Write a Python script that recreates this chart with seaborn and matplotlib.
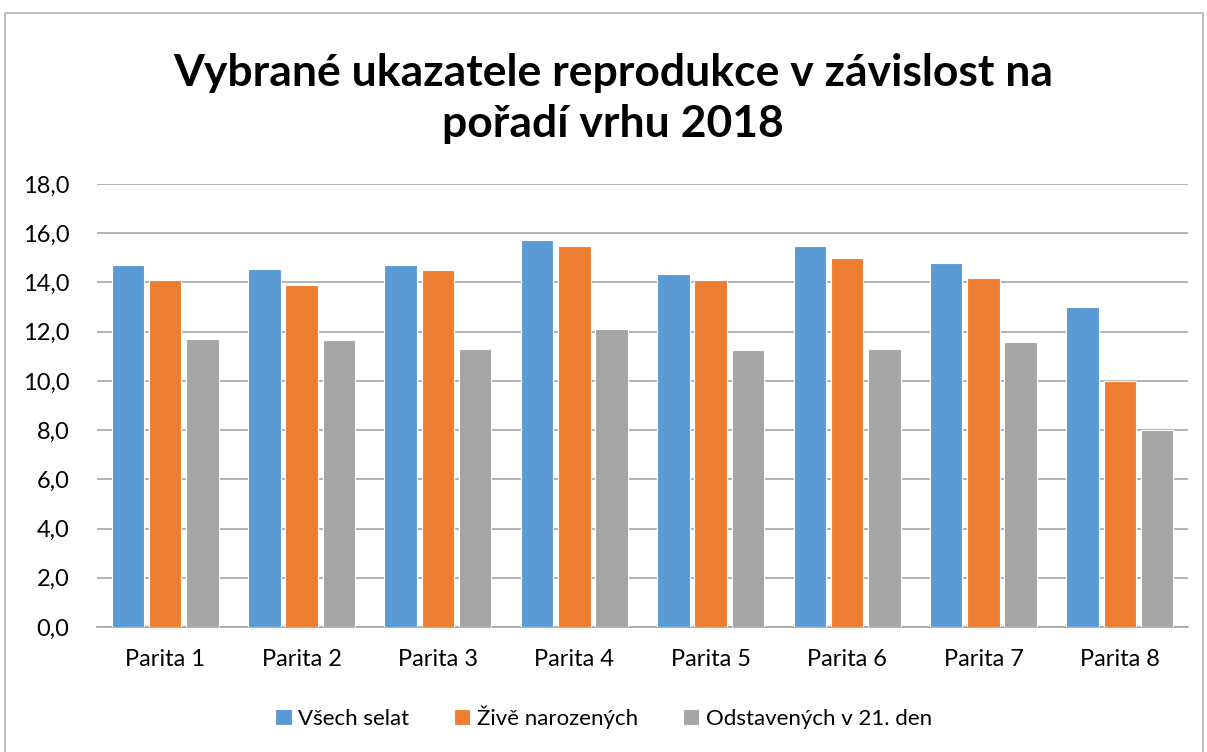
import pandas as pd
import numpy as np
import matplotlib.pyplot as plt
import seaborn as sns
from matplotlib.patches import Rectangle

# Data
parity = ['Parita 1', 'Parita 2', 'Parita 3', 'Parita 4',
          'Parita 5', 'Parita 6', 'Parita 7', 'Parita 8']
series_names = ['Všech selat', 'Živě narozených', 'Odstavených v 21. den']
vsech_selat = [14.7, 14.53, 14.69, 15.72, 14.35, 15.47, 14.8, 13.02]
zive_narozenych = [14.11, 13.9, 14.5, 15.47, 14.11, 15.0, 14.19, 10.0]
odstavenych = [11.7, 11.66, 11.28, 12.1, 11.26, 11.3, 11.6, 8.0]
colors = ['#5B9BD5', '#ED7D31', '#A5A5A5']

df = pd.DataFrame({
    'parita': parity * 3,
    'serie': np.repeat(series_names, len(parity)),
    'hodnota': vsech_selat + zive_narozenych + odstavenych,
})

sns.set_style('white')
plt.rcParams['font.family'] = ['Lato', 'DejaVu Sans']
plt.rcParams['text.color'] = 'black'

fig = plt.figure(figsize=(12.07, 7.52), dpi=100)
ax = fig.add_axes([97 / 1207, 1 - 627 / 752, (1188 - 97) / 1207, (627 - 184) / 752])

sns.barplot(data=df, x='parita', y='hodnota', hue='serie', palette=colors,
            saturation=1, width=0.82, gap=0.13, edgecolor='white', linewidth=0.8,
            errorbar=None, ax=ax, zorder=3)

ax.set_ylim(0, 18)
ax.set_xlim(-0.5, len(parity) - 0.5)
ax.set_yticks(np.arange(0, 18.1, 2))
ax.set_yticklabels([f'{v:.1f}'.replace('.', ',') for v in np.arange(0, 18.1, 2)])
ax.yaxis.grid(True, color='#A6A6A6', linewidth=1.2, zorder=0)
ax.set_axisbelow(True)
ax.set_xlabel('')
ax.set_ylabel('')
for side in ['top', 'right', 'left']:
    ax.spines[side].set_visible(False)
ax.spines['bottom'].set_color('#A6A6A6')
ax.spines['bottom'].set_linewidth(1.2)
ax.tick_params(axis='both', length=0, labelsize=17, colors='black')
ax.tick_params(axis='x', pad=16)
ax.tick_params(axis='y', pad=20)

ax.legend(loc='center', bbox_to_anchor=(0.5, (752 - 717) / 752), bbox_transform=fig.transFigure,
          ncol=3, frameon=False, fontsize=16, handlelength=0.75, handleheight=0.75,
          handletextpad=0.3, columnspacing=2.0)

fig.text(0.508, 1 - 73 / 752, 'Vybrané ukazatele reprodukce v závislost na',
         ha='center', va='center', fontsize=32, fontweight='bold', color='black')
fig.text(0.508, 1 - 124 / 752, 'pořadí vrhu 2018',
         ha='center', va='center', fontsize=32, fontweight='bold', color='black')

# chart border
fig.patches.append(Rectangle((5 / 1207, -0.05), (1203 - 5) / 1207, 1.05 - 13 / 752,
                             transform=fig.transFigure, fill=False,
                             edgecolor='#BFBFBF', linewidth=1.5))

fig.savefig('out.png', dpi=100)
